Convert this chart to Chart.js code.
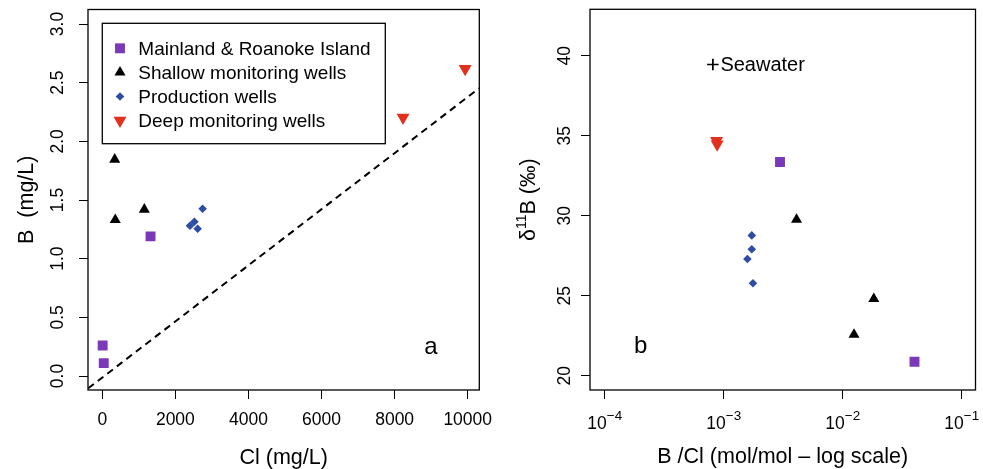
<!DOCTYPE html>
<html>
<head>
<meta charset="utf-8">
<script src="https://cdn.jsdelivr.net/npm/chart.js@4.4.1/dist/chart.umd.min.js"></script>
<style>
  html, body { margin: 0; padding: 0; background: #fff; }
  #wrap { position: relative; width: 983px; height: 469px; }
  .panel { position: absolute; top: 0; height: 469px; }
  #panelA { left: 0; width: 505px; z-index: 2; }
  #panelB { left: 490px; width: 493px; z-index: 1; }
</style>
</head>
<body>
<div id="wrap">
  <div class="panel" id="panelA"><canvas id="chartA"></canvas></div>
  <div class="panel" id="panelB"><canvas id="chartB"></canvas></div>
</div>
<script>
// ---- data, panel a : B vs Cl (mg/L) ----
const clMainland = [10, 40, 1320];
const bMainland = [0.26, 0.11, 1.19];
const clShallow = [340, 355, 1150];
const bShallow = [1.845, 1.331, 1.419];
const clProduction = [2400, 2520, 2610, 2745];
const bProduction = [1.28, 1.315, 1.255, 1.425];
const clDeep = [8230, 9930];
const bDeep = [2.203, 2.618];
const seawaterLineCl = [-383, 10309];
const seawaterLineB = [-0.105, 2.452];
const clTicks = [0, 2000, 4000, 6000, 8000, 10000];
const bTicks = [0, 0.5, 1, 1.5, 2, 2.5, 3];

// ---- data, panel b : d11B vs B/Cl (mol/mol) ----
const ratioMainland = [2.97e-3, 0.0401];
const d11Mainland = [33.36, 20.875];
const ratioShallow = [4.09e-3, 0.01244, 0.01824];
const d11Shallow = [29.76, 22.57, 24.8];
const ratioProduction = [1.72e-3, 1.72e-3, 1.58e-3, 1.76e-3];
const d11Production = [28.77, 27.9, 27.29, 25.78];
const ratioDeep = [8.7e-4, 8.8e-4];
const d11Deep = [34.68, 34.46];
const seawaterRatio = [8.1e-4];
const seawaterD11 = [39.45];
const ratioTicks = [1e-4, 1e-3, 1e-2, 1e-1];
const d11Ticks = [20, 25, 30, 35, 40];

const seriesNames = ['Mainland & Roanoke Island', 'Shallow monitoring wells', 'Production wells', 'Deep monitoring wells'];

const PURPLE = '#7B38B8';
const BLUE = '#2F4CA5';
const RED = '#E2301F';
const FONT = "'Liberation Sans', Arial, Helvetica, sans-serif";
const font = px => px + 'px ' + FONT;

const marks = [
  { pointStyle: 'rect', radius: 7, rotation: 0, color: PURPLE },
  { pointStyle: 'triangle', radius: 6.4, rotation: 0, color: '#000' },
  { pointStyle: 'rectRot', radius: 4.3, rotation: 0, color: BLUE },
  { pointStyle: 'triangle', radius: 7.5, rotation: 180, color: RED }
];

const pts = (xs, ys) => xs.map((x, i) => ({ x: x, y: ys[i] }));

function seriesSet(xsList, ysList) {
  return xsList.map((xs, i) => ({
    label: seriesNames[i],
    data: pts(xs, ysList[i]),
    pointStyle: marks[i].pointStyle,
    pointRadius: marks[i].radius,
    pointRotation: marks[i].rotation,
    pointBackgroundColor: marks[i].color,
    pointBorderColor: marks[i].color,
    pointBorderWidth: 0
  }));
}

function drawMark(ctx, m, x, y) {
  ctx.fillStyle = m.color;
  ctx.strokeStyle = m.color;
  Chart.helpers.drawPoint(ctx, { pointStyle: m.pointStyle, rotation: m.rotation, radius: m.radius, borderWidth: 0 }, x, y);
}

function rotatedText(ctx, parts, cx, cy) {
  // parts: [text, size, raise]
  let total = 0;
  parts.forEach(p => { ctx.font = font(p[1]); p.w = ctx.measureText(p[0]).width; total += p.w; });
  ctx.save();
  ctx.translate(cx, cy);
  ctx.rotate(-Math.PI / 2);
  ctx.textAlign = 'left';
  ctx.textBaseline = 'middle';
  let x = -total / 2;
  parts.forEach(p => {
    ctx.font = font(p[1]);
    ctx.fillText(p[0], x, -(p[2] || 0));
    x += p.w;
  });
  ctx.restore();
}

// frame, tick labels, titles, legend, notes
function makeDecor(cfg) {
  return {
    id: 'decor',
    afterDatasetsDraw(chart) {
      const ctx = chart.ctx, a = chart.chartArea, sx = chart.scales.x, sy = chart.scales.y;
      ctx.save();
      ctx.strokeStyle = '#000';
      ctx.lineWidth = 1.3;
      ctx.strokeRect(a.left, a.top, a.right - a.left, a.bottom - a.top);
      ctx.fillStyle = '#000';

      sx.ticks.forEach(t => {
        const px = sx.getPixelForValue(t.value);
        if (cfg.logX) {
          const e = Math.round(Math.log10(t.value));
          const sup = '\u2212' + Math.abs(e);
          ctx.font = font(17.5); const w1 = ctx.measureText('10').width;
          ctx.font = font(13.5); const w2 = ctx.measureText(sup).width;
          const x0 = px - (w1 + w2) / 2;
          ctx.textAlign = 'left';
          ctx.textBaseline = 'alphabetic';
          ctx.font = font(17.5); ctx.fillText('10', x0, 429);
          ctx.font = font(13.5); ctx.fillText(sup, x0 + w1, 420);
        } else {
          ctx.font = font(17.5);
          ctx.textAlign = 'center';
          ctx.textBaseline = 'alphabetic';
          ctx.fillText(String(t.value), px, 425);
        }
      });

      sy.ticks.forEach(t => {
        const py = sy.getPixelForValue(t.value);
        rotatedText(ctx, [[t.value.toFixed(cfg.yDecimals), 17.5, 0]], cfg.yTickX, py);
      });

      ctx.font = font(21.5);
      ctx.textAlign = 'center';
      ctx.textBaseline = 'alphabetic';
      ctx.fillText(cfg.xTitle, (a.left + a.right) / 2, cfg.xTitleY);
      rotatedText(ctx, cfg.yTitle, cfg.yTitleX, (a.top + a.bottom) / 2);

      ctx.font = font(24);
      ctx.textAlign = 'center';
      ctx.fillText(cfg.letter.text, sx.getPixelForValue(cfg.letter.x), sy.getPixelForValue(cfg.letter.y));

      if (cfg.legend) {
        const bx = a.left + 14.3, by = a.top + 13.8, bw = 283, bh = 120.4;
        ctx.lineWidth = 1.3;
        ctx.strokeStyle = '#000';
        ctx.strokeRect(bx, by, bw, bh);
        seriesNames.forEach((name, i) => {
          const cy = by + 25 + i * 24.1;
          drawMark(ctx, marks[i], bx + 17.7, cy);
          ctx.fillStyle = '#000';
          ctx.font = font(19);
          ctx.textAlign = 'left';
          ctx.textBaseline = 'alphabetic';
          ctx.fillText(name, bx + 36, cy + 6.8);
        });
      }

      if (cfg.seawaterLabel) {
        ctx.font = font(20);
        ctx.textAlign = 'left';
        ctx.fillStyle = '#000';
        const px = sx.getPixelForValue(seawaterRatio[0]);
        const py = sy.getPixelForValue(seawaterD11[0]);
        ctx.fillText('Seawater', px + 7.5, py + 6.8);
      }
      ctx.restore();
    }
  };
}

function axis(extra, ticks, fit) {
  return Object.assign({
    afterBuildTicks: s => { s.ticks = ticks.map(v => ({ value: v })); },
    afterFit: fit,
    ticks: { display: false },
    border: { display: false },
    grid: { drawOnChartArea: false, drawTicks: true, tickLength: 9, color: '#000', lineWidth: 1 }
  }, extra);
}

// -------------------------- panel a -------------------------------- //
const dsA = seriesSet([clMainland, clShallow, clProduction, clDeep], [bMainland, bShallow, bProduction, bDeep]);
dsA.unshift({
  label: 'seawater ratio',
  data: pts(seawaterLineCl, seawaterLineB),
  showLine: true,
  pointRadius: 0,
  borderColor: '#000',
  borderWidth: 2,
  borderDash: [7, 5]
});

new Chart(document.getElementById('chartA'), {
  type: 'scatter',
  data: { datasets: dsA },
  options: {
    responsive: true,
    maintainAspectRatio: false,
    animation: false,
    devicePixelRatio: 1,
    events: [],
    layout: { padding: { left: 0, right: 25.7, top: 9.5, bottom: 0 } },
    plugins: { legend: { display: false }, tooltip: { enabled: false } },
    scales: {
      x: axis({ type: 'linear', min: -391, max: 10317 }, clTicks, s => { s.height = 79; }),
      y: axis({ type: 'linear', min: -0.1193, max: 3.1236 }, bTicks, s => { s.width = 88; })
    }
  },
  plugins: [makeDecor({
    logX: false, yDecimals: 1, yTickX: 58, yTitleX: 27, xTitleY: 464,
    xTitle: 'Cl (mg/L)',
    yTitle: [['B  (mg/L)', 21.5, 0]],
    letter: { text: 'a', x: 8995, y: 0.19 },
    legend: true
  })]
});

// -------------------------- panel b -------------------------------- //
const dsB = seriesSet([ratioMainland, ratioShallow, ratioProduction, ratioDeep], [d11Mainland, d11Shallow, d11Production, d11Deep]);
dsB.push({
  label: 'Seawater',
  data: pts(seawaterRatio, seawaterD11),
  pointStyle: 'cross',
  pointRadius: 5.8,
  pointBorderColor: '#000',
  pointBorderWidth: 1.7
});

new Chart(document.getElementById('chartB'), {
  type: 'scatter',
  data: { datasets: dsB },
  options: {
    responsive: true,
    maintainAspectRatio: false,
    animation: false,
    devicePixelRatio: 1,
    events: [],
    layout: { padding: { left: 0, right: 2.3, top: 9.3, bottom: 0 } },
    plugins: { legend: { display: false }, tooltip: { enabled: false } },
    scales: {
      x: axis({ type: 'logarithmic', min: 7.51e-5, max: 0.1306 }, ratioTicks, s => { s.height = 79; }),
      y: axis({ type: 'linear', min: 19.106, max: 42.9 }, d11Ticks, s => { s.width = 100; })
    }
  },
  plugins: [makeDecor({
    logX: true, yDecimals: 0, yTickX: 75, yTitleX: 39, xTitleY: 463,
    xTitle: 'B /Cl (mol/mol \u2013 log scale)',
    yTitle: [['\u03B4', 21.5, 0], ['11', 14, 7], ['B (\u2030)', 21.5, 0]],
    letter: { text: 'b', x: 2.0e-4, y: 21.4 },
    seawaterLabel: true
  })]
});
</script>
</body>
</html>
